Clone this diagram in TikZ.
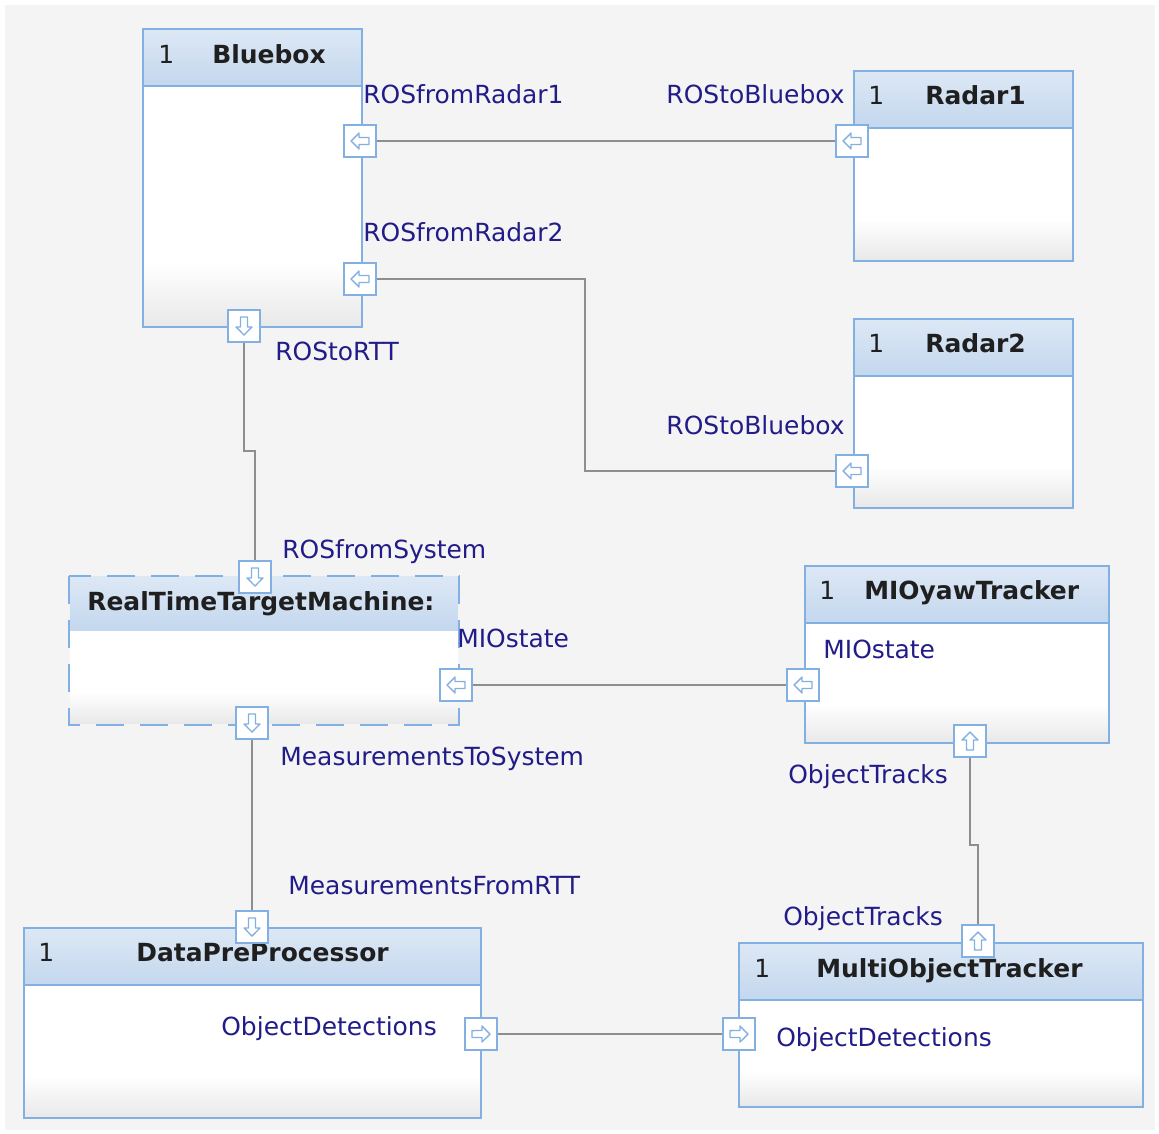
\documentclass[tikz,border=0pt]{standalone}
\usepackage{fontspec}
\setmainfont{DejaVu Sans}
\usetikzlibrary{positioning, calc}

\definecolor{bg}{HTML}{F4F4F4}
\definecolor{blockblue}{RGB}{131,176,226}
\definecolor{headtop}{HTML}{DDE8F5}
\definecolor{headbot}{HTML}{C3D7EE}
\definecolor{labelblue}{RGB}{34,28,136}
\definecolor{wiregray}{HTML}{8E8E8E}
\pgfdeclareverticalshading{bodyshade}{100bp}{color(0bp)=(black!9); color(25bp)=(black!9); color(36bp)=(white); color(100bp)=(white)}

\begin{document}
\begin{tikzpicture}[x=0.02cm, y=-0.02cm, font=\fontsize{14.2pt}{17pt}\selectfont,
  block/.style={draw=blockblue, line width=1.1pt, shading=bodyshade, anchor=north west, inner sep=0pt},
  header/.style={draw=blockblue, line width=1.1pt, top color=headtop, bottom color=headbot, minimum height=1.14cm, anchor=north, inner sep=0pt},
  count/.style={anchor=base west, inner sep=0pt, text=black!88},
  title/.style={anchor=base west, inner sep=0pt, text=black!88, font=\fontsize{14.2pt}{17pt}\selectfont\bfseries},
  lbl/.style={anchor=base west, inner sep=0pt, text=labelblue},
  port/.style={draw=blockblue, line width=1.1pt, fill=white, minimum size=0.64cm, inner sep=0pt,
    path picture={\coordinate (pc) at (path picture bounding box.center);
      \draw[blockblue, line width=0.8pt, line join=round]
      ($(pc)+(#1:0.18cm)$) -- ($(pc)+(#1+83:0.161cm)$) -- ($(pc)+(#1+74:0.073cm)$) -- ($(pc)+(#1+159:0.193cm)$)
      -- ($(pc)+(#1-159:0.193cm)$) -- ($(pc)+(#1-74:0.073cm)$) -- ($(pc)+(#1-83:0.161cm)$) -- cycle;}},
  wire/.style={draw=wiregray, line width=1.1pt}]
  \useasboundingbox (0,0) rectangle (1159,1133);
  \fill[bg] (5,5) rectangle (1155,1130);

  % blocks
  \node (bluebox) [block, minimum width=4.38cm, minimum height=5.96cm] at (142,28) {};
  \node (bluebox-h) [header, minimum width=4.38cm] at (bluebox.north) {};
  \node (bluebox-n) [count] at (158,63) {1};
  \node (bluebox-t) [title] at (212,63) {Bluebox};

  \node (radar1) [block, minimum width=4.38cm, minimum height=3.8cm] at (853,70) {};
  \node (radar1-h) [header, minimum width=4.38cm] at (radar1.north) {};
  \node (radar1-n) [count] at (868,104) {1};
  \node (radar1-t) [title] at (925,104) {Radar1};

  \node (radar2) [block, minimum width=4.38cm, minimum height=3.78cm] at (853,318) {};
  \node (radar2-h) [header, minimum width=4.38cm] at (radar2.north) {};
  \node (radar2-n) [count] at (868,352) {1};
  \node (radar2-t) [title] at (925,352) {Radar2};

  \node (rtt) [block, draw=none, minimum width=7.76cm, minimum height=2.94cm] at (69,576) {};
  \node (rtt-h) [header, draw=none, minimum width=7.76cm, minimum height=1.08cm] at (rtt.north) {};
  \draw[blockblue, line width=1.1pt, dash pattern=on 0.56cm off 0.32cm] (rtt.north west) rectangle (rtt.south east);
  \node (rtt-t) [title] at (87,610) {RealTimeTargetMachine:};

  \node (mio) [block, minimum width=6.08cm, minimum height=3.54cm] at (804,565) {};
  \node (mio-h) [header, minimum width=6.08cm] at (mio.north) {};
  \node (mio-n) [count] at (819,599) {1};
  \node (mio-t) [title] at (864,599) {MIOyawTracker};

  \node (dpp) [block, minimum width=9.14cm, minimum height=3.8cm] at (23,927) {};
  \node (dpp-h) [header, minimum width=9.14cm] at (dpp.north) {};
  \node (dpp-n) [count] at (38,961) {1};
  \node (dpp-t) [title] at (136,961) {DataPreProcessor};

  \node (mot) [block, minimum width=8.08cm, minimum height=3.28cm] at (738,942) {};
  \node (mot-h) [header, minimum width=8.08cm] at (mot.north) {};
  \node (mot-n) [count] at (754,977) {1};
  \node (mot-t) [title] at (816,977) {MultiObjectTracker};

  % ports
  \node (bbR1) [port=180] at (360,141) {};
  \node (bbR2) [port=180] at (360,279) {};
  \node (bbOut) [port=-90] at (244,326) {};
  \node (r1In) [port=180] at (852,141) {};
  \node (r2In) [port=180] at (852,471) {};
  \node (rttIn) [port=-90] at (255,577) {};
  \node (rttMio) [port=180] at (456,685) {};
  \node (rttOut) [port=-90] at (252,723) {};
  \node (mioIn) [port=180] at (803,685) {};
  \node (mioOut) [port=90] at (970,741) {};
  \node (dppIn) [port=-90] at (252,927) {};
  \node (dppOut) [port=0] at (481,1034) {};
  \node (motIn) [port=0] at (739,1034) {};
  \node (motTop) [port=90] at (978,941) {};

  % connections
  \draw[wire] (bbR1) -- (r1In);
  \draw[wire] (bbR2) -| (585,375) |- (r2In);
  \draw[wire] (bbOut) |- (250,451) -| (rttIn);
  \draw[wire] (rttMio) -- (mioIn);
  \draw[wire] (rttOut) -- (dppIn);
  \draw[wire] (dppOut) -- (motIn);
  \draw[wire] (mioOut) |- (974,845) -| (motTop);

  % port labels
  \node (l-bbR1) [lbl] at (363,103) {ROSfromRadar1};
  \node (l-r1In) [lbl, anchor=base east] at (845,103) {ROStoBluebox};
  \node (l-bbR2) [lbl] at (363,241) {ROSfromRadar2};
  \node (l-bbOut) [lbl] at (275,360) {ROStoRTT};
  \node (l-r2In) [lbl, anchor=base east] at (845,434) {ROStoBluebox};
  \node (l-rttIn) [lbl] at (282,558) {ROSfromSystem};
  \node (l-rttMio) [lbl] at (457,647) {MIOstate};
  \node (l-mioIn) [lbl] at (823,658) {MIOstate};
  \node (l-rttOut) [lbl] at (280,765) {MeasurementsToSystem};
  \node (l-mioOut) [lbl] at (788,783) {ObjectTracks};
  \node (l-dppIn) [lbl] at (288,894) {MeasurementsFromRTT};
  \node (l-motTop) [lbl] at (783,925) {ObjectTracks};
  \node (l-dppOut) [lbl] at (221,1035) {ObjectDetections};
  \node (l-motIn) [lbl] at (776,1046) {ObjectDetections};
\end{tikzpicture}
\end{document}
